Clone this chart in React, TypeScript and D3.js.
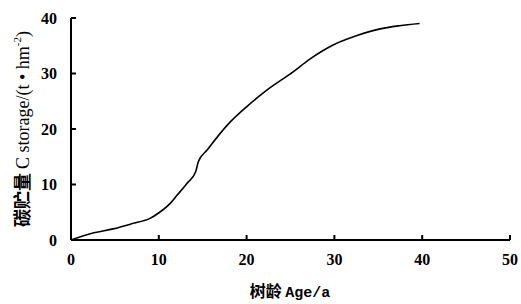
import React from "react";
import * as d3 from "d3";

const ages = [0, 2.6, 4.8, 7.1, 9.0, 10.1, 11.3, 12.1, 13.2, 14.2, 14.5, 15.5, 17.8, 20.0, 22.3, 25.3, 27.2, 29.8, 32.5, 35.1, 37.4, 39.7];
const storage = [0, 1.3, 2.0, 3.0, 3.9, 5.0, 6.6, 8.1, 10.2, 12.3, 14.1, 16.2, 20.7, 24.0, 27.0, 30.3, 32.6, 35.1, 36.8, 38.0, 38.6, 39.0];
const xTicks = [0, 10, 20, 30, 40, 50];
const yTicks = [0, 10, 20, 30, 40];

const W = 521, H = 304;
const M = { left: 71, right: 510, top: 18, bottom: 240 };

export default function App() {
  const x = d3.scaleLinear().domain([0, 50]).range([M.left, M.right]);
  const y = d3.scaleLinear().domain([0, 40]).range([M.bottom, M.top]);
  const pts: [number, number][] = ages.map((a, i) => [a, storage[i]]);
  const line = d3.line<[number, number]>().x(d => x(d[0])).y(d => y(d[1])).curve(d3.curveMonotoneX);
  return (
    <svg width={W} height={H} style={{ position: "absolute", left: 0, top: 0, background: "#fff", fontFamily: "Liberation Serif" }}>
      <line x1={M.left} x2={M.left} y1={y(40)} y2={M.bottom} stroke="#000" strokeWidth={2} />
      <line x1={M.left} x2={M.right} y1={M.bottom} y2={M.bottom} stroke="#000" strokeWidth={2} />
      {yTicks.map(t => (
        <line key={"yt" + t} x1={M.left} x2={M.left + 5} y1={y(t)} y2={y(t)} stroke="#000" strokeWidth={2} />
      ))}
      {yTicks.map(t => (
        <text key={"yl" + t} x={57} y={y(t) + 5.5} textAnchor="end" fontSize={16} fontWeight="bold" style={{ fontFamily: "Liberation Serif" }}>{String(t)}</text>
      ))}
      {xTicks.map(t => (
        <line key={"xt" + t} x1={x(t)} x2={x(t)} y1={M.bottom} y2={M.bottom - 5} stroke="#000" strokeWidth={2} />
      ))}
      {xTicks.map(t => (
        <text key={"xl" + t} x={x(t)} y={265} textAnchor="middle" fontSize={16} fontWeight="bold" style={{ fontFamily: "Liberation Serif" }}>{String(t)}</text>
      ))}
      <path d={line(pts) || ""} fill="none" stroke="#000" strokeWidth={1.6} />
      <text x={290} y={297} textAnchor="middle" fontSize={16} fontWeight="bold">
        <tspan style={{ fontFamily: "Noto Sans CJK SC" }}>树龄 </tspan>
        <tspan style={{ fontFamily: "Liberation Mono" }} fontSize={15}>Age/a</tspan>
      </text>
      <text transform="translate(29,129) rotate(-90)" textAnchor="middle" fontSize={18} fontWeight="bold">
        <tspan style={{ fontFamily: "Noto Sans CJK SC" }}>碳贮量 </tspan>
        <tspan style={{ fontFamily: "Liberation Serif" }} fontWeight="normal">C storage/(t • hm</tspan>
        <tspan style={{ fontFamily: "Liberation Serif" }} fontWeight="normal" fontSize={11} dy={-8}>-2</tspan>
        <tspan style={{ fontFamily: "Liberation Serif" }} fontWeight="normal" dy={8}>)</tspan>
      </text>
    </svg>
  );
}
